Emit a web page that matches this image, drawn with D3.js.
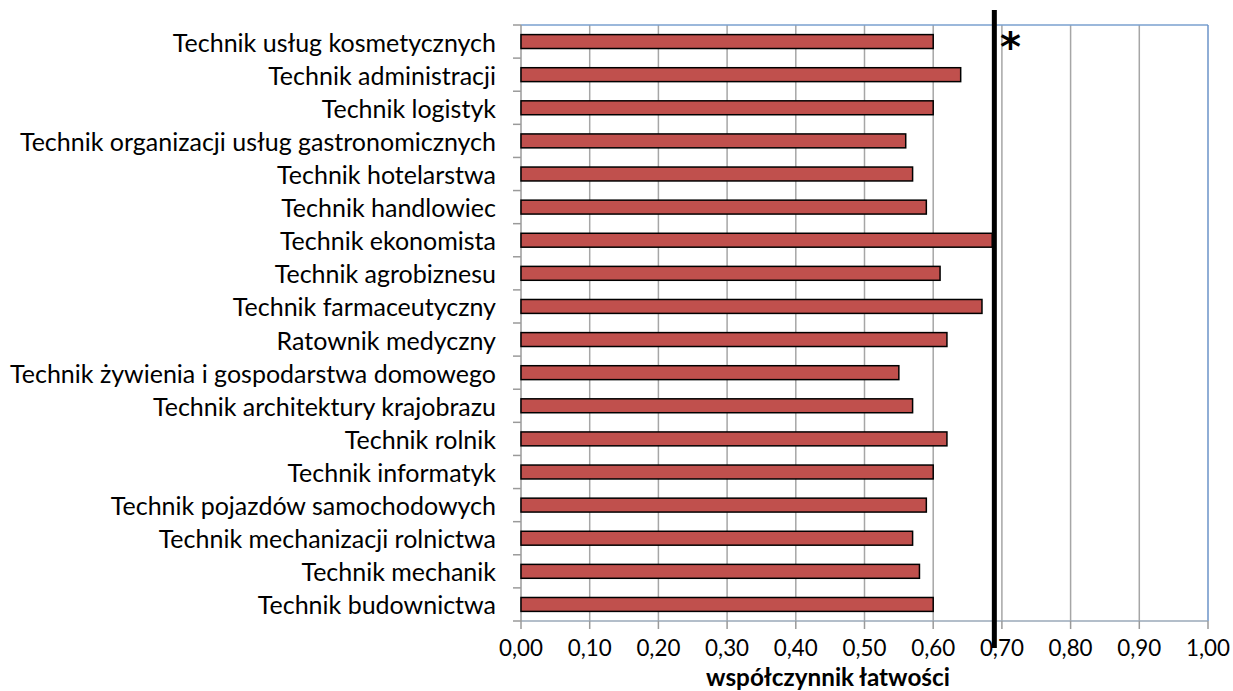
<!DOCTYPE html>
<html><head><meta charset="utf-8">
<script src="https://cdn.jsdelivr.net/npm/d3@7"></script>
<style>body{margin:0;background:#fff}svg{display:block}</style>
</head><body>
<svg id="c" width="1233" height="691"></svg>
<script>
const categories = [
  "Technik usług kosmetycznych",
  "Technik administracji",
  "Technik logistyk",
  "Technik organizacji usług gastronomicznych",
  "Technik hotelarstwa",
  "Technik handlowiec",
  "Technik ekonomista",
  "Technik agrobiznesu",
  "Technik farmaceutyczny",
  "Ratownik medyczny",
  "Technik żywienia i gospodarstwa domowego",
  "Technik architektury krajobrazu",
  "Technik rolnik",
  "Technik informatyk",
  "Technik pojazdów samochodowych",
  "Technik mechanizacji rolnictwa",
  "Technik mechanik",
  "Technik budownictwa"
];
const values = [0.60, 0.64, 0.60, 0.56, 0.57, 0.59, 0.686, 0.61, 0.671, 0.62, 0.55, 0.57, 0.62, 0.60, 0.59, 0.57, 0.58, 0.60];
const xTicks = [0, 0.1, 0.2, 0.3, 0.4, 0.5, 0.6, 0.7, 0.8, 0.9, 1.0];
const threshold = 0.689;
const axisTitle = "współczynnik łatwości";
const markerText = "*";

(function(){
const svg = d3.select("#c");
const L = 521, R = 1208, T = 25, B = 621;
const x = d3.scaleLinear().domain([0, 1]).range([L, R]);
const y = d3.scaleBand().domain(categories).range([T, B]).paddingInner(0.58).paddingOuter(0.29);
const font = "Lato, 'Open Sans', sans-serif";
const fmt = d => d3.format(".2f")(d).replace(".", ",");

function fit(sel, target, base) {
  let w = 0;
  sel.each(function(){ w = Math.max(w, this.getComputedTextLength()); });
  const fs = base * target / w;
  sel.attr("font-size", fs);
  return fs;
}

// gridlines
svg.append("g").selectAll("line").data(xTicks.slice(1, -1)).join("line")
  .attr("x1", d => x(d)).attr("x2", d => x(d)).attr("y1", T).attr("y2", B)
  .attr("stroke", "#a6a6a6").attr("stroke-width", 1.5);

// plot border top/right/bottom
svg.append("line").attr("x1", L).attr("x2", R).attr("y1", T).attr("y2", T).attr("stroke", "#7aa0cf").attr("stroke-width", 1.5);
svg.append("line").attr("x1", R).attr("x2", R).attr("y1", T).attr("y2", B).attr("stroke", "#6b93c9").attr("stroke-width", 1.5);
svg.append("line").attr("x1", L).attr("x2", R).attr("y1", B).attr("y2", B).attr("stroke", "#9aa8b8").attr("stroke-width", 1.5);

// x axis ticks
svg.append("g").selectAll("line").data(xTicks).join("line")
  .attr("x1", d => x(d)).attr("x2", d => x(d)).attr("y1", B).attr("y2", B + 8)
  .attr("stroke", "#9a9a9a").attr("stroke-width", 1.5);

// y axis line and ticks
svg.append("line").attr("x1", L).attr("x2", L).attr("y1", T).attr("y2", B)
  .attr("stroke", "#9a9a9a").attr("stroke-width", 1.5);
const step = y.step();
svg.append("g").selectAll("line").data(d3.range(categories.length + 1)).join("line")
  .attr("x1", L - 8).attr("x2", L).attr("y1", i => T + i * step).attr("y2", i => T + i * step)
  .attr("stroke", "#9a9a9a").attr("stroke-width", 1.5);

// bars
svg.append("g").selectAll("rect").data(categories).join("rect")
  .attr("x", x(0)).attr("y", d => y(d)).attr("height", y.bandwidth())
  .attr("width", (d, i) => x(values[i]) - x(0))
  .attr("fill", "#c0504d").attr("stroke", "#000").attr("stroke-width", 1.5);

// category labels
const cl = svg.append("g").selectAll("text").data(categories).join("text")
  .attr("x", 496).attr("y", d => y(d) + y.bandwidth() / 2)
  .attr("text-anchor", "end").attr("dominant-baseline", "central")
  .attr("font-family", font).attr("font-size", 20).attr("fill", "#000").text(d => d);
fit(cl, 486, 20);

// tick labels
let tickY = 662;
const tl = svg.append("g").selectAll("text").data(xTicks).join("text")
  .attr("x", d => x(d)).attr("y", tickY).attr("text-anchor", "middle")
  .attr("font-family", font).attr("font-size", 20).attr("fill", "#000").text(fmt);
const fs = fit(tl.filter((d, i) => i === 0), 44, 20);
tl.attr("font-size", fs);

// axis title
let titleY = 686.5;
const at = svg.append("text").attr("x", 828).attr("y", titleY).attr("text-anchor", "middle")
  .attr("font-family", font).attr("font-weight", "bold").attr("font-size", 20).attr("fill", "#000").text(axisTitle);
fit(at, 244, 20);
const bb = at.node().getBBox();
const shift = 690.6 - (bb.y + bb.height);
titleY += shift;
at.attr("y", titleY);
const titleTop = bb.y + shift;
const tb = tl.node().getBBox();
const over = (tb.y + tb.height) - (titleTop - 0.6);
if (over > 0) { tickY -= over; tl.attr("y", tickY); }

// threshold line
svg.append("line").attr("x1", x(threshold)).attr("x2", x(threshold)).attr("y1", 10).attr("y2", 648)
  .attr("stroke", "#000").attr("stroke-width", 5);

// asterisk marker
svg.append("text").attr("x", 1000).attr("y", 61).attr("font-family", "'DejaVu Sans', sans-serif")
  .attr("font-weight", "bold").attr("font-size", 40).attr("fill", "#000").text(markerText);
})();
</script>
</body></html>
